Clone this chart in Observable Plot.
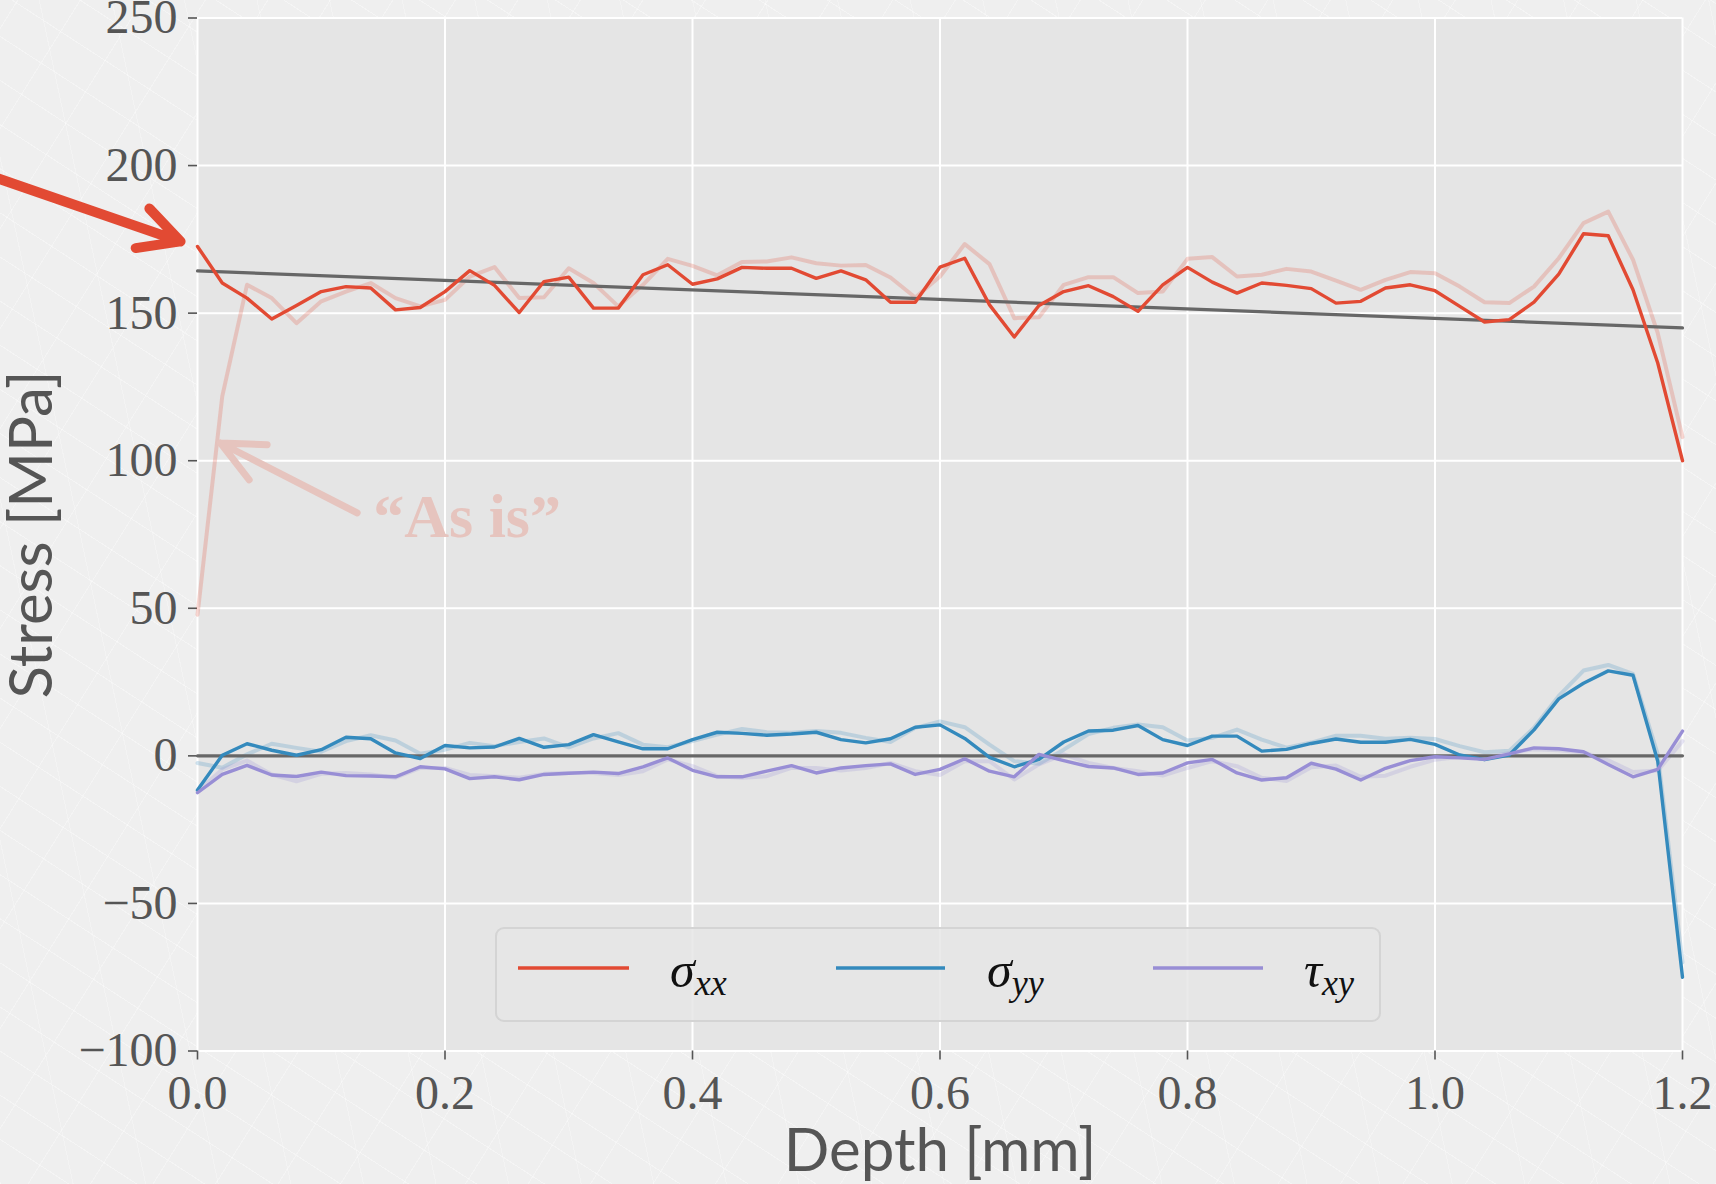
<!DOCTYPE html>
<html>
<head>
<meta charset="utf-8">
<script src="https://cdn.jsdelivr.net/npm/d3@7"></script>
<script src="https://cdn.jsdelivr.net/npm/@observablehq/plot@0.6"></script>
<style>
  html, body { margin: 0; padding: 0; background: #EFEFEF; }
  #wrap { position: relative; width: 1716px; height: 1184px; overflow: hidden;
    background-color: #EFEFEF;
    background-image:
      repeating-linear-gradient(33deg, rgba(255,255,255,0.35) 0 1px, transparent 1px 37px),
      repeating-linear-gradient(-58deg, rgba(255,255,255,0.3) 0 1px, transparent 1px 53px),
      repeating-linear-gradient(78deg, rgba(255,255,255,0.25) 0 1px, transparent 1px 71px);
  }
  #legend { position: absolute; left: 495px; top: 927px; width: 886px; height: 95px;
    box-sizing: border-box; border: 2px solid rgba(210,210,210,0.9); border-radius: 9px;
    background: rgba(229,229,229,0.82); }
  #legend svg { position: absolute; left: 0; top: 0; overflow: visible; }
</style>
</head>
<body>
<div id="wrap"></div>
<script>
// ---- data ----
const depth = [0.00,0.02,0.04,0.06,0.08,0.10,0.12,0.14,0.16,0.18,0.20,0.22,0.24,0.26,0.28,0.30,0.32,0.34,0.36,0.38,0.40,0.42,0.44,0.46,0.48,0.50,0.52,0.54,0.56,0.58,0.60,0.62,0.64,0.66,0.68,0.70,0.72,0.74,0.76,0.78,0.80,0.82,0.84,0.86,0.88,0.90,0.92,0.94,0.96,0.98,1.00,1.02,1.04,1.06,1.08,1.10,1.12,1.14,1.16,1.18,1.20];

const sigmaXX = [172.6,160.2,155.1,148.0,152.6,157.3,159.0,158.5,151.1,151.9,157.3,164.4,159.4,150.2,160.7,162.2,151.7,151.7,163.0,166.4,159.8,161.6,165.5,165.2,165.2,161.8,164.3,161.3,153.7,153.7,165.6,168.6,152.8,141.9,152.6,157.3,159.3,155.6,150.6,159.6,165.5,160.5,156.8,160.2,159.4,158.3,153.4,154.0,158.5,159.6,157.6,152.3,147.0,147.8,153.7,163.2,176.9,176.2,157.9,133.1,100.0];
const sigmaXXasIs = [47.8,121.8,159.6,155.1,146.6,154.0,157.3,160.2,155.1,152.3,154.5,162.4,165.6,155.1,155.4,165.2,160.2,152.3,159.6,168.4,166.0,162.8,167.3,167.5,168.9,166.9,166.1,166.3,162.1,155.3,162.4,173.4,166.6,148.3,148.6,159.6,162.2,162.2,156.8,157.3,168.4,169.0,162.4,163.0,165.0,164.1,161.0,157.9,161.3,163.9,163.5,159.0,153.7,153.4,159.0,168.6,180.5,184.4,168.1,143.2,108.0];

const sigmaYY = [-11.6,0.2,4.1,1.9,0.2,2.1,6.3,5.8,1.0,-0.9,3.5,2.7,3.0,5.9,2.9,3.8,7.2,4.7,2.4,2.4,5.5,8.0,7.6,7.0,7.4,8.0,5.5,4.4,5.8,9.7,10.5,5.9,-0.5,-3.7,-1.2,4.7,8.4,8.7,10.3,5.5,3.5,6.7,6.7,1.6,2.2,4.2,5.7,4.6,4.6,5.6,3.9,0.3,-1.3,0.3,8.8,19.3,24.6,28.8,27.3,-1.8,-75.0];
const sigmaYYasIs = [-2.4,-4.0,0.5,4.1,2.7,1.4,5.0,7.0,5.2,0.7,2.1,4.4,3.3,4.7,5.9,2.9,5.9,7.7,3.8,2.9,5.0,7.2,9.1,8.0,7.8,8.4,7.8,6.1,4.7,9.5,11.7,9.7,3.8,-1.8,-2.7,2.1,7.4,9.5,10.6,9.7,5.2,6.1,8.9,5.5,2.8,4.5,6.8,6.8,5.8,6.1,5.7,3.3,1.2,1.7,9.5,20.3,28.9,30.8,27.8,0.5,-70.0];

const tauXY = [-12.5,-6.3,-3.2,-6.5,-7.0,-5.5,-6.7,-6.8,-7.1,-3.7,-4.4,-7.7,-7.1,-8.1,-6.3,-5.9,-5.5,-6.0,-3.7,-0.7,-4.9,-7.1,-7.1,-5.2,-3.3,-5.8,-4.1,-3.3,-2.7,-6.3,-4.6,-1.0,-5.2,-7.1,0.5,-1.6,-3.6,-4.1,-6.3,-5.8,-2.4,-1.2,-5.8,-8.2,-7.4,-2.5,-4.5,-8.2,-4.2,-1.6,-0.3,-0.7,-1.2,0.7,2.7,2.4,1.4,-2.9,-7.1,-4.6,8.4];
const tauXYasIs = [-12.0,-4.6,-1.6,-6.3,-8.6,-6.1,-5.8,-6.3,-7.4,-4.1,-4.1,-6.5,-6.9,-7.4,-6.1,-5.8,-5.8,-6.5,-5.2,-1.2,-3.5,-6.9,-7.4,-6.9,-4.1,-4.1,-5.0,-4.1,-2.4,-5.2,-6.5,-1.8,-1.8,-8.0,-2.9,0.5,-2.4,-4.1,-5.2,-6.7,-4.1,-1.8,-3.5,-7.4,-8.5,-3.9,-3.3,-7.1,-6.7,-3.7,-1.3,-0.3,-0.7,1.0,2.2,1.9,1.2,-1.5,-5.5,-5.0,5.0];

// linear fit of sigma_xx (endpoints) and zero reference
const fitDepth = [0.0, 1.2];
const fitValue = [164.3, 145.0];
const zeroValue = [0, 0];

const xTicks = [0.0, 0.2, 0.4, 0.6, 0.8, 1.0, 1.2];
const yTicks = [-100, -50, 0, 50, 100, 150, 200, 250];

// annotations (data units)
const redArrow = {x1: -0.183, y1: 198.8, x2: -0.0137, y2: 174.3};
const asIsArrow = {x1: 0.129, y1: 82.3, x2: 0.0186, y2: 106.0};
const asIsLabel = {x: 0.142, y: 80.9, text: "\u201CAs is\u201D"};

const seriesNames = ["σxx", "σyy", "τxy"];
const colors = {"σxx": "#E24A33", "σyy": "#348ABD", "τxy": "#988ED5"};

// ---- tables ----
function table(values) { return depth.map((d, i) => ({depth: d, value: values[i]})); }
const main = {"σxx": table(sigmaXX), "σyy": table(sigmaYY), "τxy": table(tauXY)};
const asIs = {"σxx": table(sigmaXXasIs), "σyy": table(sigmaYYasIs), "τxy": table(tauXYasIs)};
const fit = fitDepth.map((d, i) => ({depth: d, value: fitValue[i]}));
const zero = fitDepth.map((d, i) => ({depth: d, value: zeroValue[i]}));

const fmtY = d => (d < 0 ? "\u2212" + Math.abs(d) : String(d));
const tickFont = "'Liberation Serif', 'DejaVu Serif', serif";
const labelFont = "Lato, 'Open Sans', sans-serif";
const paleRed = "#E6C4BE";

const chart = Plot.plot({
  width: 1716,
  height: 1184,
  marginLeft: 197,
  marginRight: 34,
  marginTop: 17.5,
  marginBottom: 133.5,
  x: {domain: [0, 1.2]},
  y: {domain: [-100, 250]},
  style: {background: "transparent", overflow: "visible"},
  marks: [
    Plot.frame({fill: "#E5E5E5", stroke: "none"}),
    Plot.gridX(xTicks, {stroke: "#FFFFFF", strokeOpacity: 1, strokeWidth: 2}),
    Plot.gridY(yTicks, {stroke: "#FFFFFF", strokeOpacity: 1, strokeWidth: 2}),
    Plot.axisX(xTicks, {tickFormat: d3.format(".1f"), tickSize: 9, tickPadding: 15, fontSize: 48,
      fontFamily: tickFont, color: "#555555", strokeWidth: 1.6, label: null}),
    Plot.axisY(yTicks, {tickFormat: fmtY, tickSize: 9, tickPadding: 11, fontSize: 48,
      fontFamily: tickFont, color: "#555555", strokeWidth: 1.6, label: null}),
    // "as is" series (pale)
    ...seriesNames.map(s => Plot.line(asIs[s], {x: "depth", y: "value", stroke: colors[s],
      strokeOpacity: 0.22, strokeWidth: 4})),
    // reference lines
    Plot.line(zero, {x: "depth", y: "value", stroke: "#676767", strokeWidth: 3.2}),
    Plot.line(fit, {x: "depth", y: "value", stroke: "#676767", strokeWidth: 3.2}),
    // corrected series
    ...seriesNames.map(s => Plot.line(main[s], {x: "depth", y: "value", stroke: colors[s],
      strokeWidth: 3.4})),
    // annotations
    Plot.arrow([redArrow], {x1: "x1", y1: "y1", x2: "x2", y2: "y2", stroke: "#E24A33",
      strokeWidth: 10, headLength: 6.8, headAngle: 55, strokeLinecap: "round", strokeLinejoin: "round"}),
    Plot.arrow([asIsArrow], {x1: "x1", y1: "y1", x2: "x2", y2: "y2", stroke: paleRed,
      strokeWidth: 7, headLength: 10, headAngle: 50, strokeLinecap: "round", strokeLinejoin: "round"}),
    Plot.text([asIsLabel], {x: "x", y: "y", text: "text", fill: paleRed, fontSize: 62,
      fontWeight: "bold", fontFamily: tickFont, textAnchor: "start", lineAnchor: "middle"}),
    // axis labels
    Plot.text(["Depth [mm]"], {frameAnchor: "bottom", dy: 101, text: d => d, fontSize: 60,
      fontFamily: labelFont, fill: "#555555", textAnchor: "middle", lineAnchor: "middle"}),
    Plot.text(["Stress [MPa]"], {frameAnchor: "left", dx: -165, rotate: -90, text: d => d,
      fontSize: 60, fontFamily: labelFont, fill: "#555555", textAnchor: "middle", lineAnchor: "middle"})
  ]
});

const wrap = document.getElementById("wrap");
chart.style.position = "absolute";
chart.style.left = "0px";
chart.style.top = "0px";
wrap.appendChild(chart);

// ---- legend ----
const legendItems = [
  {name: "σxx", base: "σ", sub: "xx", x0: 21, x1: 132, tx: 173},
  {name: "σyy", base: "σ", sub: "yy", x0: 339, x1: 448, tx: 490},
  {name: "τxy", base: "τ", sub: "xy", x0: 656, x1: 766, tx: 807}
];
const legend = document.createElement("div");
legend.id = "legend";
const ns = "http://www.w3.org/2000/svg";
const svg = document.createElementNS(ns, "svg");
svg.setAttribute("width", 886);
svg.setAttribute("height", 95);
for (const it of legendItems) {
  const ln = document.createElementNS(ns, "line");
  ln.setAttribute("x1", it.x0); ln.setAttribute("x2", it.x1);
  ln.setAttribute("y1", 39); ln.setAttribute("y2", 39);
  ln.setAttribute("stroke", colors[it.name]); ln.setAttribute("stroke-width", 3.4);
  svg.appendChild(ln);
  const t = document.createElementNS(ns, "text");
  t.setAttribute("x", it.tx); t.setAttribute("y", 58);
  t.setAttribute("font-family", "'Liberation Serif', 'DejaVu Serif', serif");
  t.setAttribute("font-style", "italic");
  t.setAttribute("font-size", 50);
  t.setAttribute("fill", "#111");
  const b = document.createElementNS(ns, "tspan");
  b.textContent = it.base;
  const s = document.createElementNS(ns, "tspan");
  s.setAttribute("font-size", 36);
  s.setAttribute("dy", 8);
  s.textContent = it.sub;
  t.appendChild(b); t.appendChild(s);
  svg.appendChild(t);
}
legend.appendChild(svg);
wrap.appendChild(legend);
</script>
</body>
</html>
